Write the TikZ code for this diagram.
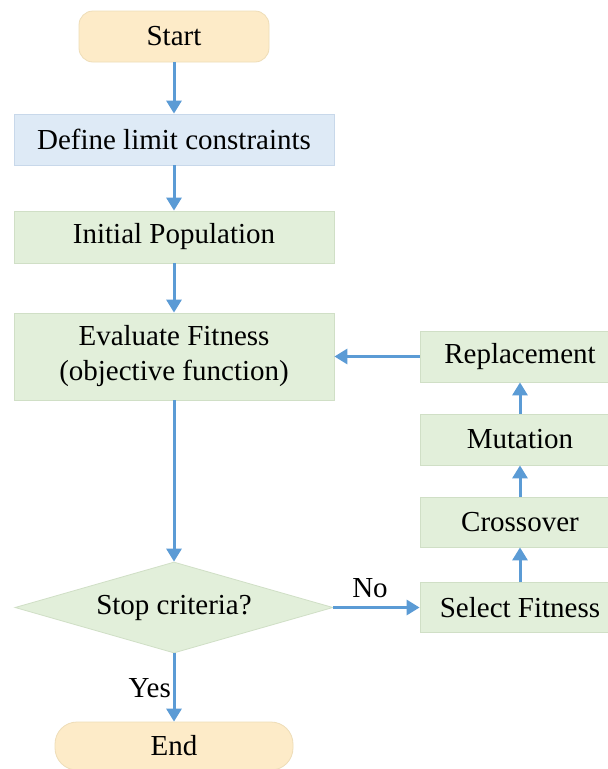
\documentclass[tikz,border=0pt]{standalone}
\usepackage{fontspec}
\setmainfont{Liberation Serif}
\usetikzlibrary{shapes.geometric,arrows.meta}
\definecolor{arrowc}{HTML}{5B9BD5}
\definecolor{termfill}{HTML}{FDEBC8}
\definecolor{termdraw}{HTML}{EEDDB8}
\definecolor{greenfill}{HTML}{E2EFDA}
\definecolor{greendraw}{HTML}{D0DFC6}
\definecolor{bluefill}{HTML}{DEEAF6}
\definecolor{bluedraw}{HTML}{C8D8EA}
\begin{document}
\begin{tikzpicture}[x=1pt,y=-1pt,
  every node/.style={font=\fontsize{29}{33}\selectfont, inner sep=0pt, text=black},
  term/.style={draw=termdraw, fill=termfill, line width=0.8pt, rounded corners=14pt},
  greenbox/.style={draw=greendraw, fill=greenfill, line width=0.8pt},
  bluebox/.style={draw=bluedraw, fill=bluefill, line width=0.8pt},
  decision/.style={diamond, draw=greendraw, fill=greenfill, line width=0.8pt, shape aspect=3.5},
  conn/.style={draw=arrowc, line width=3pt, -{Triangle[width=15pt,length=13pt]}},
  lbl/.style={font=\fontsize{29}{33}\selectfont}
]
\clip (0,0) rectangle (608,769);
\fill[white] (0,0) rectangle (608,769);

% main column
\node[term, minimum width=190pt, minimum height=51pt] (start) at (174,36.5) {Start};
\node[bluebox, minimum width=320pt, minimum height=51pt] (def) at (174,139.5) {Define limit constraints};
\node[greenbox, minimum width=320pt, minimum height=87pt, align=center] (eval) at (174,356.5) {Evaluate Fitness\\[2pt](objective function)};
\node[greenbox, minimum width=320pt, minimum height=52pt] (init) at (174,237) {Initial Population};
\node[decision, minimum width=318pt, minimum height=91pt] (stop) at (174,607.5) {Stop criteria?};
\node[term, rounded corners=22pt, minimum width=238pt, minimum height=48pt] (end) at (174,746) {End};

% right column
\node[greenbox, minimum width=200pt, minimum height=51pt] (rep) at (520,356.5) {Replacement};
\node[greenbox, minimum width=200pt, minimum height=51pt] (mut) at (520,439.5) {Mutation};
\node[greenbox, minimum width=200pt, minimum height=50pt] (cross) at (520,522) {Crossover};
\node[greenbox, minimum width=200pt, minimum height=50pt] (sel) at (520,607.5) {Select Fitness};

% connectors
\draw[conn] (start) -- (def);
\draw[conn] (def) -- (init);
\draw[conn] (init) -- (eval);
\draw[conn] (eval) -- (stop);
\draw[conn] (stop) -- (end);
\draw[conn] (stop.east) -- (stop.east -| sel.west);
\draw[conn] (sel) -- (cross);
\draw[conn] (cross) -- (mut);
\draw[conn] (mut) -- (rep);
\draw[conn] (rep.west) -- (rep.west -| eval.east);

% labels
\node[lbl] (no) at (370,588) {No};
\node[lbl, anchor=east] (yes) at (171,688) {Yes};
\end{tikzpicture}
\end{document}
